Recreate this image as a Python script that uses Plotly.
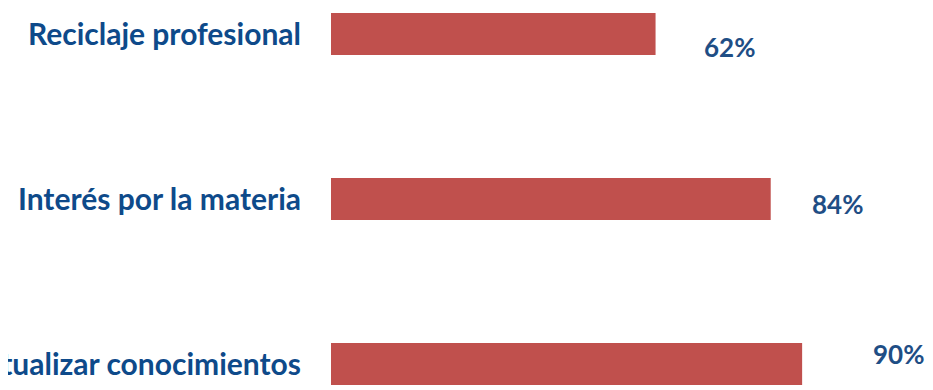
import plotly.graph_objects as go

categories = ["Actualizar conocimientos", "Interés por la materia", "Reciclaje profesional"]
values = [90, 84, 62]
value_labels = ["90%", "84%", "62%"]

# per-label pixel offsets of the value labels (style only)
label_xshift = [96, 67, 74]
label_yshift = [10, -5, -13]

BAR_COLOR = "#C0504D"
CAT_COLOR = "#0E4A8A"
VAL_COLOR = "#1F4E85"
FONT = "Lato"

fig = go.Figure(
    go.Bar(
        x=values,
        y=categories,
        orientation="h",
        marker=dict(color=BAR_COLOR, line=dict(width=0)),
        width=0.256,
        hoverinfo="skip",
    )
)

for v, c, t, dx, dy in zip(values, categories, value_labels, label_xshift, label_yshift):
    fig.add_annotation(
        x=v, y=c, text=f"<b>{t}</b>", showarrow=False,
        xanchor="center", yanchor="middle", xshift=dx, yshift=dy,
        font=dict(family=FONT, size=26, color=VAL_COLOR),
    )

# page body adds an 8px margin, so the figure is 8px smaller and shifted
fig.update_layout(
    width=925, height=382,
    margin=dict(l=323, r=0, t=0, b=0, autoexpand=False),
    plot_bgcolor="white", paper_bgcolor="white",
    showlegend=False,
    xaxis=dict(range=[0, 115.0], visible=False, showgrid=False, zeroline=False,
               automargin=False),
    yaxis=dict(
        type="category", categoryorder="array", categoryarray=categories,
        range=[-0.1576, 2.1576], showgrid=False, zeroline=False, showline=False,
        automargin=False,
        ticks="", ticklabelstandoff=29,
        tickfont=dict(family=FONT, size=30, color=CAT_COLOR, weight="bold"),
    ),
)

fig.write_html("out.html")
